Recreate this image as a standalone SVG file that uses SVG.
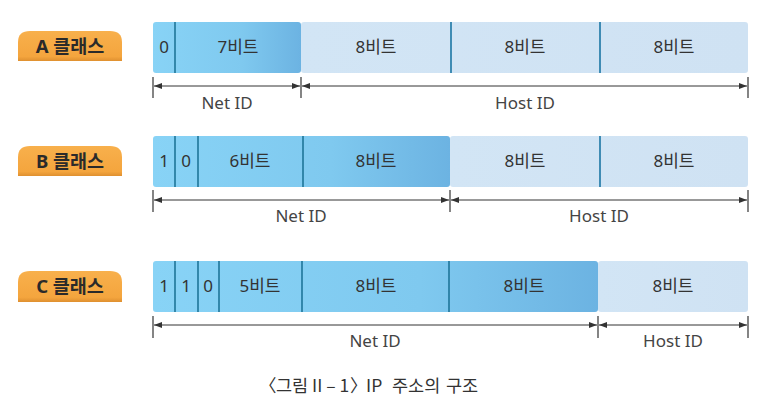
<svg xmlns="http://www.w3.org/2000/svg" width="768" height="408" viewBox="0 0 768 408">
<defs>
<linearGradient id="net" x1="0" y1="0" x2="1" y2="0">
<stop offset="0" stop-color="#88d3f6"/>
<stop offset="0.6" stop-color="#7fc9ef"/>
<stop offset="1" stop-color="#6cb3e2"/>
</linearGradient>
<linearGradient id="host" x1="0" y1="0" x2="1" y2="0">
<stop offset="0" stop-color="#d2e5f5"/>
<stop offset="1" stop-color="#cfe2f3"/>
</linearGradient>
<linearGradient id="pill" x1="0" y1="0" x2="0" y2="1">
<stop offset="0" stop-color="#f8b04c"/>
<stop offset="0.85" stop-color="#f4a53e"/>
<stop offset="1" stop-color="#df9030"/>
</linearGradient>
<marker id="arr" viewBox="0 0 8 6" refX="8" refY="3" markerWidth="8" markerHeight="6" markerUnits="userSpaceOnUse" orient="auto-start-reverse">
<path d="M0,0 L8,3 L0,6 z" fill="#333"/>
</marker>
</defs>
<style>
.net{fill:url(#net)}
.host{fill:url(#host)}
.div{stroke:#1f7599;stroke-width:1.6}
.hdiv{stroke:#2f82ad;stroke-width:1.8}
.bt{font-family:"Noto Sans","Noto Sans CJK KR",sans-serif;font-size:17px;fill:#333;text-anchor:middle}
.lbl{font-family:"Noto Sans","Noto Sans CJK KR",sans-serif;font-size:17px;fill:#444;text-anchor:middle}
.pt{font-family:"Noto Sans","Noto Sans CJK KR",sans-serif;font-size:18.5px;font-weight:bold;fill:#2a2a2a;text-anchor:middle}
.pill{fill:url(#pill)}
.dim{stroke:#333;stroke-width:1;fill:none}
.tick{stroke:#333;stroke-width:1.2}
.cap{font-family:"Noto Sans CJK KR","Noto Sans",sans-serif;font-size:17.5px;fill:#333}
</style>

<g id="labelA">
<path class="pill" d="M18,61 L18,42 Q18,31 30,31 L110,31 Q122,31 122,42 L122,61 Z"/>
<text class="pt" x="70" y="53">A 클래스</text>
</g>
<g id="classA">
<rect class="net" x="153" y="22" width="148" height="51" rx="3"/>
<rect class="host" x="301" y="22" width="447" height="51" rx="3"/>
<line class="div" x1="175" y1="22" x2="175" y2="73"/>
<line class="hdiv" x1="451" y1="22" x2="451" y2="73"/>
<line class="hdiv" x1="600" y1="22" x2="600" y2="73"/>
<text class="bt" x="164" y="53">0</text>
<text class="bt" x="238" y="53">7비트</text>
<text class="bt" x="376" y="53">8비트</text>
<text class="bt" x="525" y="53">8비트</text>
<text class="bt" x="674" y="53">8비트</text>
</g>

<g id="labelB">
<path class="pill" d="M18,176 L18,157 Q18,146 30,146 L110,146 Q122,146 122,157 L122,176 Z"/>
<text class="pt" x="70" y="168">B 클래스</text>
</g>
<g id="classB">
<rect class="net" x="153" y="136" width="297" height="51" rx="3"/>
<rect class="host" x="450" y="136" width="298" height="51" rx="3"/>
<line class="div" x1="175" y1="136" x2="175" y2="187"/>
<line class="div" x1="198" y1="136" x2="198" y2="187"/>
<line class="div" x1="303" y1="136" x2="303" y2="187"/>
<line class="hdiv" x1="600" y1="136" x2="600" y2="187"/>
<text class="bt" x="164" y="167">1</text>
<text class="bt" x="186" y="167">0</text>
<text class="bt" x="250" y="167">6비트</text>
<text class="bt" x="376" y="167">8비트</text>
<text class="bt" x="525" y="167">8비트</text>
<text class="bt" x="674" y="167">8비트</text>
</g>

<g id="labelC">
<path class="pill" d="M18,302 L18,282 Q18,271 30,271 L110,271 Q122,271 122,282 L122,302 Z"/>
<text class="pt" x="70" y="293">C 클래스</text>
</g>
<g id="classC">
<rect class="net" x="153" y="261" width="445" height="51" rx="3"/>
<rect class="host" x="598" y="261" width="150" height="51" rx="3"/>
<line class="div" x1="175" y1="261" x2="175" y2="312"/>
<line class="div" x1="198" y1="261" x2="198" y2="312"/>
<line class="div" x1="219" y1="261" x2="219" y2="312"/>
<line class="div" x1="302" y1="261" x2="302" y2="312"/>
<line class="div" x1="449" y1="261" x2="449" y2="312"/>
<text class="bt" x="164" y="292">1</text>
<text class="bt" x="186" y="292">1</text>
<text class="bt" x="208" y="292">0</text>
<text class="bt" x="260" y="292">5비트</text>
<text class="bt" x="376" y="292">8비트</text>
<text class="bt" x="524" y="292">8비트</text>
<text class="bt" x="673" y="292">8비트</text>
</g>

<g id="connectors">
<line class="tick" x1="153" y1="77" x2="153" y2="98"/>
<line class="tick" x1="301" y1="77" x2="301" y2="98"/>
<line class="tick" x1="748" y1="77" x2="748" y2="98"/>
<line class="dim" x1="154" y1="86" x2="300" y2="86" marker-start="url(#arr)" marker-end="url(#arr)"/>
<line class="dim" x1="302" y1="86" x2="747" y2="86" marker-start="url(#arr)" marker-end="url(#arr)"/>

<line class="tick" x1="153" y1="190" x2="153" y2="212"/>
<line class="tick" x1="450" y1="190" x2="450" y2="212"/>
<line class="tick" x1="748" y1="190" x2="748" y2="212"/>
<line class="dim" x1="154" y1="200" x2="449" y2="200" marker-start="url(#arr)" marker-end="url(#arr)"/>
<line class="dim" x1="451" y1="200" x2="747" y2="200" marker-start="url(#arr)" marker-end="url(#arr)"/>

<line class="tick" x1="153" y1="316" x2="153" y2="338"/>
<line class="tick" x1="598" y1="316" x2="598" y2="338"/>
<line class="tick" x1="748" y1="316" x2="748" y2="338"/>
<line class="dim" x1="154" y1="325" x2="597" y2="325" marker-start="url(#arr)" marker-end="url(#arr)"/>
<line class="dim" x1="599" y1="325" x2="747" y2="325" marker-start="url(#arr)" marker-end="url(#arr)"/>
</g>

<text class="lbl" x="227" y="109">Net ID</text>
<text class="lbl" x="525" y="109">Host ID</text>
<text class="lbl" x="301" y="222">Net ID</text>
<text class="lbl" x="599" y="222">Host ID</text>
<text class="lbl" x="375" y="347">Net ID</text>
<text class="lbl" x="673" y="347">Host ID</text>

<text class="cap" y="392"><tspan x="259">〈</tspan><tspan x="276">그림 II – 1</tspan><tspan x="350">〉</tspan><tspan x="366">IP</tspan><tspan x="392">주소의</tspan><tspan x="446">구조</tspan></text>
</svg>
